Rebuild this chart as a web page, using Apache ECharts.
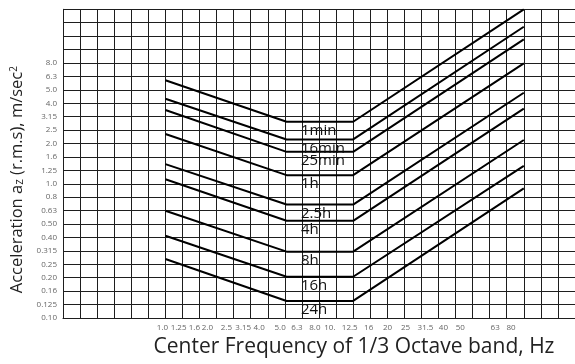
<!DOCTYPE html>
<html><head><meta charset="utf-8">
<script src="https://cdn.jsdelivr.net/npm/echarts@6/dist/echarts.min.js"></script>
<style>html,body{margin:0;padding:0;background:#fff}#c{width:575px;height:364px}</style>
</head><body><div id="c"></div>
<script>
// Fatigue-decreased proficiency boundaries (vertical vibration)
const curveNames = ['1min', '16min', '25min', '1h', '2.5h', '4h', '8h', '16h', '24h'];
const startValues = [5.9, 4.3, 3.55, 2.35, 1.4, 1.08, 0.63, 0.41, 0.275];   // at 1 Hz
const flatValues = [2.9, 2.14, 1.73, 1.16, 0.70, 0.53, 0.312, 0.203, 0.134]; // 4 - 8 Hz
const endValues = [19.9, 14.8, 11.9, 7.9, 4.77, 3.63, 2.12, 1.36, 0.925];   // right end
const breakCols = [6, 13.1, 17, 27];   // chart columns of 1 Hz, 4 Hz, 8 Hz, end
const labelCol = 14;                   // column where curve names start
const freqLabels = ['1.0', '1.25', '1.6', '2.0', '2.5', '3.15', '4.0', '5.0', '6.3', '8.0', '10.', '12.5', '16', '20', '25', '31.5', '40', '50', '63', '80'];
const freqLabelCols = [5.83, 6.77, 7.70, 8.46, 9.57, 10.56, 11.49, 12.72, 13.71, 14.76, 15.64, 16.80, 17.91, 19.02, 20.07, 21.24, 22.29, 23.28, 25.32, 26.25];
const yTickLabels = ['0.10', '0.125', '0.16', '0.20', '0.25', '0.315', '0.40', '0.50', '0.63', '0.8', '1.0', '1.25', '1.6', '2.0', '2.5', '3.15', '4.0', '5.0', '6.3', '8.0'];

const FONT = 'Open Sans';
const GRIDC = '#1e1e1e';

const series = curveNames.map((name, i) => ({
  type: 'line',
  name: name,
  symbol: 'none',
  animation: false,
  silent: true,
  lineStyle: { color: '#000', width: 2 },
  data: [
    [breakCols[0], startValues[i]],
    [breakCols[1], flatValues[i]],
    [breakCols[2], flatValues[i]],
    [breakCols[3], endValues[i]]
  ],
  markPoint: {
    symbol: 'circle',
    symbolSize: 0,
    silent: true,
    animation: false,
    data: [{ coord: [labelCol, flatValues[i]], name: name }],
    label: {
      show: true, position: 'right', distance: 0, offset: [-1, 9],
      formatter: name, fontSize: 15, color: '#111', fontFamily: FONT
    }
  }
}));

const chart = echarts.init(document.getElementById('c'), null, { renderer: 'canvas' });
chart.setOption({
  backgroundColor: '#fff',
  animation: false,
  grid: { left: 63, top: 9.3, height: 308.7, width: 514.2 },
  xAxis: {
    type: 'value', min: 0, max: 30, interval: 1,
    axisLine: { show: true, lineStyle: { color: GRIDC, width: 1 } },
    axisTick: { show: false },
    splitLine: { show: true, lineStyle: { color: GRIDC, width: 1 } },
    axisLabel: {
      customValues: freqLabelCols,
      fontSize: 8, color: '#666', fontFamily: FONT, margin: 6,
      formatter: function (v) {
        let best = -1, bd = 1e9;
        freqLabelCols.forEach((c, k) => { const d = Math.abs(c - v); if (d < bd) { bd = d; best = k; } });
        return bd < 0.01 ? freqLabels[best] : '';
      }
    },
    name: 'Center Frequency of 1/3 Octave band, Hz',
    nameLocation: 'middle', nameGap: 13,
    nameTextStyle: { fontSize: 21, color: '#222', fontFamily: FONT, padding: [0, 0, 0, 70] }
  },
  yAxis: {
    type: 'log', logBase: 10, min: 0.1, max: Math.pow(10, 1.3), interval: 0.1,
    axisLine: { show: true, lineStyle: { color: GRIDC, width: 1 } },
    axisTick: { show: false },
    splitLine: { show: true, lineStyle: { color: GRIDC, width: 1 } },
    axisLabel: {
      fontSize: 8, color: '#666', fontFamily: FONT, margin: 6, padding: [6, 0, 0, 0],
      showMinLabel: true, showMaxLabel: true,
      formatter: function (v) {
        const k = Math.round((Math.log10(v) + 1) * 10);
        return yTickLabels[k] || '';
      }
    },
    name: '{n|Acceleration a}{s|z}{n| (r.m.s), m/sec}{p|2}',
    nameLocation: 'middle', nameGap: 32,
    nameTextStyle: {
      padding: [0, 32, 0, 0],
      rich: {
        n: { fontSize: 16.5, color: '#222', fontFamily: FONT },
        s: { fontSize: 12, color: '#222', fontFamily: FONT, verticalAlign: 'bottom' },
        p: { fontSize: 10, color: '#222', fontFamily: FONT, verticalAlign: 'top' }
      }
    }
  },
  series: series
});
</script>
</body></html>
